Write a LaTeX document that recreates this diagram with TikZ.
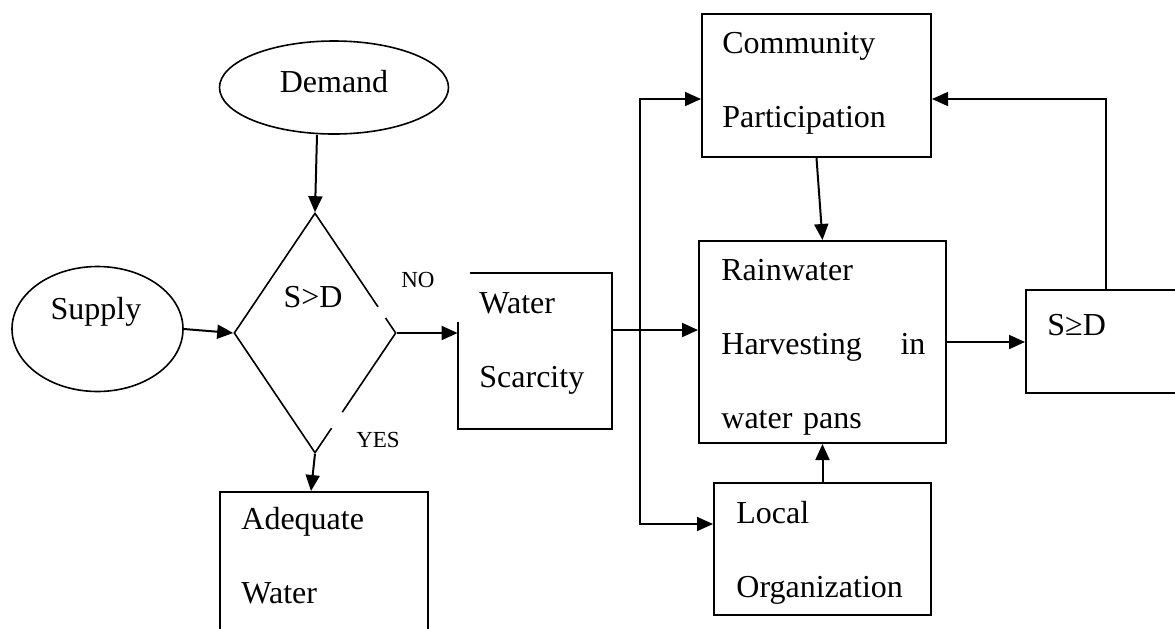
\documentclass[tikz,border=0pt]{standalone}
\usepackage{fontspec}
\setmainfont{Liberation Serif}
\usetikzlibrary{shapes.geometric,arrows.meta,calc}

\tikzset{
	box/.style={draw, line width=1pt, inner sep=0pt},
	oval/.style={ellipse, draw, line width=0.8pt, inner sep=0pt},
	txt/.style={font=\fontsize{16}{37}\selectfont, anchor=base west, align=left, inner sep=0pt},
	small/.style={font=\fontsize{11.5}{14}\selectfont, anchor=base, inner sep=0pt},
	arr/.style={line width=1pt, -{Triangle[length=8pt,width=7pt]}}
}

\begin{document}
\begin{tikzpicture}[x=0.5pt, y=-0.5pt]
	\useasboundingbox (0,0) rectangle (1175,628);
	\clip (0,0) rectangle (1175,628);
	% left side
	\node[oval, minimum width=114.5pt, minimum height=46.5pt] (demand) at (334,87.5) {};
	\node[oval, minimum width=85.5pt, minimum height=62.5pt] (supply) at (97.5,329) {};
	\node[diamond, draw, line width=0.8pt, inner sep=0pt, minimum width=81pt, minimum height=120pt] (dec) at (315,333) {};
	\node[inner sep=0pt, minimum width=77pt, minimum height=78pt] (scarce) at (535,351) {};
	\draw[line width=1pt] ([xshift=6pt]scarce.north west) -- (scarce.north east) -- (scarce.south east) -- (scarce.south west) -- ([yshift=-24.5pt]scarce.north west);
	\node[box, minimum width=104pt, minimum height=94pt] (adeq) at (324,586) {};
	% right side
	\node[box, minimum width=114.5pt, minimum height=71.5pt] (comm) at (816.5,85.5) {};
	\node[box, minimum width=123.5pt, minimum height=101pt] (rain) at (822.5,342) {};
	\node[box, minimum width=108.5pt, minimum height=66pt] (local) at (822.5,549) {};
	\node[box, minimum width=87pt, minimum height=51.5pt] (sgd) at (1113,341.5) {};
	\coordinate (fork) at (640,330);

	% gaps in the diamond
	\draw[white, line width=2.5pt] ($(dec.north)!0.78!(dec.east)$) -- ($(dec.north)!0.87!(dec.east)$);
	\draw[white, line width=2.5pt] ($(dec.east)!0.66!(dec.south)$) -- ($(dec.east)!0.79!(dec.south)$);

	\node[txt, anchor=base] (demandtxt) at (334,92) {Demand};
	\node[txt, anchor=base] (supplytxt) at (96,319) {Supply};
	\node[txt, anchor=base] (dectxt) at (313,307) {S>D};
	\node[small] (no) at (418,287) {NO};
	\node[small] (yes) at (378,447) {YES};
	\node[txt] (scarcetxt) at (479,387) {Water\\Scarcity};
	\node[txt] (adeqtxt) at (241,603) {Adequate\\Water};
	\node[txt] (commtxt) at (722,127) {Community\\Participation};
	\node[txt, text width=102pt] (raintxt) at (721,280) {Rainwater\\Harvesting\hfill in\\water pans};
	\node[txt] (localtxt) at (736,597) {Local\\Organization};
	\node[txt] (sgdtxt) at (1047,335) {S≥D};

	\draw[arr] ([xshift=-8.5pt]demand.south) -- (dec.north);
	\draw[arr] (supply.east) -- (dec.west);
	\draw[arr] (dec.east) -- (dec.east -| scarce.west);
	\draw[arr] (dec.south) -- ([xshift=-6.5pt]adeq.north);
	\draw[arr] ([yshift=10.5pt]scarce.east) -- ([yshift=10.5pt]scarce.east -| rain.west);
	\draw[arr, line width=0.8pt] (fork) |- ([yshift=-6.75pt]comm.west);
	\draw[arr, line width=0.8pt] (fork) |- ([yshift=12.5pt]local.west);
	\draw[arr] (comm.south) -- (rain.north);
	\draw[arr] (local.north) -- (rain.south);
	\draw[arr] (rain.east) -- (rain.east -| sgd.west);
	\draw[arr, line width=0.8pt] ([xshift=-3.5pt]sgd.north) |- ([yshift=-6.75pt]comm.east);
\end{tikzpicture}
\end{document}
